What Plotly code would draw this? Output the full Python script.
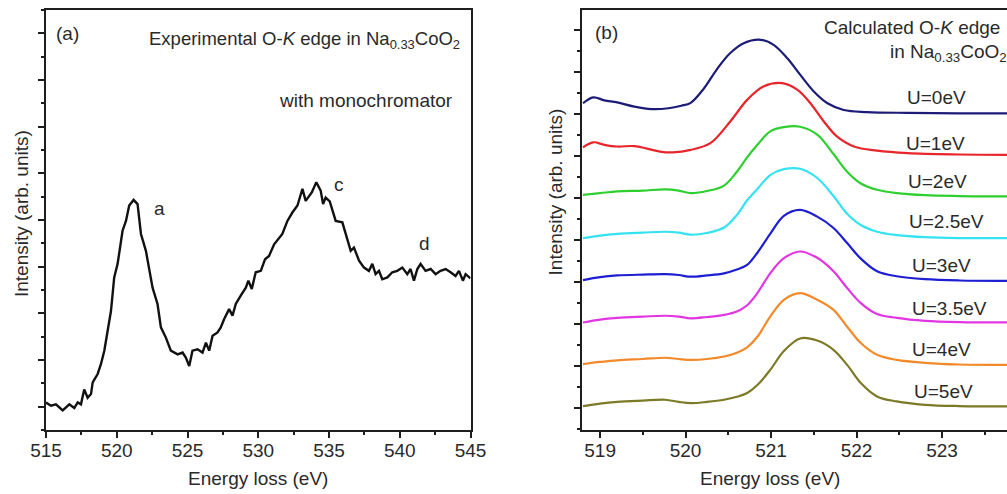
import plotly.graph_objects as go

# ---------------- Panel (a): experimental O-K edge ----------------
exp_energy = [515.0, 515.35, 515.7, 516.18, 516.65, 517.0, 517.24, 517.47, 517.7, 517.94,
              518.18, 518.3, 518.65, 518.88, 519.12, 519.35, 519.59, 519.82, 520.06, 520.41,
              520.65, 520.88, 521.19, 521.47, 521.71, 522.06, 522.53, 522.88, 523.12, 523.47,
              523.82, 524.3, 524.65, 524.88, 525.12, 525.35, 525.71, 526.06, 526.3, 526.53,
              526.77, 527.12, 527.35, 527.59, 527.94, 528.18, 528.41, 528.76, 529.12, 529.3,
              529.54, 529.82, 530.18, 530.48, 530.76, 531.12, 531.42, 531.7, 532.06, 532.41,
              532.77, 533.12, 533.35, 533.78, 534.1, 534.41, 534.58, 534.76, 535.05, 535.47,
              535.94, 536.18, 536.53, 536.76, 537.12, 537.47, 537.82, 538.06, 538.29, 538.53,
              538.76, 539.12, 539.47, 539.82, 540.18, 540.53, 540.76, 541.0, 541.24, 541.47,
              541.82, 542.18, 542.53, 542.88, 543.24, 543.59, 543.94, 544.18, 544.46, 544.65,
              544.88, 545.0]
exp_intensity = [0.09, 0.02, 0.05, -0.08, 0.05, -0.03, 0.09, 0.05, 0.37, 0.19,
                 0.27, 0.52, 0.70, 0.91, 1.20, 1.62, 2.05, 2.77, 3.06, 3.77,
                 3.98, 4.31, 4.43, 4.34, 3.70, 3.34, 2.55, 2.20, 1.70, 1.48,
                 1.20, 1.12, 1.16, 1.05, 0.87, 1.20, 1.23, 1.16, 1.37, 1.20,
                 1.52, 1.59, 1.70, 1.88, 2.09, 1.95, 2.20, 2.38, 2.55, 2.70,
                 2.52, 2.88, 2.91, 3.16, 3.23, 3.48, 3.59, 3.70, 3.98, 4.16,
                 4.31, 4.67, 4.41, 4.59, 4.81, 4.63, 4.34, 4.48, 4.40, 3.98,
                 3.95, 3.70, 3.34, 3.41, 3.13, 2.98, 2.91, 3.06, 2.84, 2.91,
                 2.73, 2.77, 2.88, 2.91, 2.98, 2.84, 2.95, 2.70, 2.95, 3.06,
                 2.91, 2.95, 2.84, 2.91, 2.95, 2.88, 2.80, 2.91, 2.70, 2.84,
                 2.77, 2.75]

# ---------------- Panel (b): calculated O-K edge (vertically stacked) ----------------
u0_energy = [518.8, 518.92, 519.05, 519.2, 519.4, 519.6, 519.8, 519.95, 520.06, 520.21,
             520.37, 520.52, 520.68, 520.88, 521.03, 521.19, 521.34, 521.5, 521.66, 521.85,
             522.12, 522.6, 523.2, 523.9]
u0_vals = [7.26, 7.40, 7.33, 7.28, 7.18, 7.12, 7.14, 7.20, 7.27, 7.60,
           8.08, 8.45, 8.69, 8.77, 8.65, 8.33, 7.94, 7.54, 7.26, 7.10,
           7.05, 7.03, 7.02, 7.02]

u1_energy = [518.8, 518.92, 519.05, 519.2, 519.4, 519.55, 519.7, 519.85, 520.06, 520.29,
             520.52, 520.72, 520.91, 521.13, 521.31, 521.46, 521.62, 521.77, 521.97, 522.24,
             522.6, 523.2, 523.9]
u1_vals = [6.21, 6.33, 6.27, 6.23, 6.24, 6.18, 6.11, 6.09, 6.15, 6.31,
           6.82, 7.34, 7.66, 7.74, 7.58, 7.26, 6.82, 6.47, 6.23, 6.13,
           6.07, 6.04, 6.03]

calc_energy = [518.8, 519.0, 519.2, 519.5, 519.76, 519.92, 520.06, 520.25, 520.45, 520.6,
               520.72, 520.84, 520.99, 521.15, 521.34, 521.54, 521.73, 521.89, 522.05, 522.24,
               522.47, 522.8, 523.2, 523.9]
u2_vals = [5.08, 5.12, 5.16, 5.18, 5.21, 5.18, 5.12, 5.17, 5.30, 5.63,
           5.97, 6.27, 6.59, 6.69, 6.70, 6.51, 6.05, 5.63, 5.35, 5.20,
           5.12, 5.07, 5.05, 5.04]
u25_vals = [4.05, 4.11, 4.15, 4.18, 4.20, 4.18, 4.13, 4.17, 4.30, 4.60,
            4.95, 5.22, 5.55, 5.69, 5.70, 5.48, 5.05, 4.63, 4.36, 4.20,
            4.12, 4.07, 4.05, 4.05]
u3_vals = [3.05, 3.12, 3.16, 3.18, 3.19, 3.17, 3.13, 3.16, 3.21, 3.30,
           3.41, 3.70, 4.15, 4.58, 4.72, 4.56, 4.29, 3.93, 3.56, 3.26,
           3.14, 3.07, 3.04, 3.03]
u35_vals = [2.04, 2.11, 2.15, 2.18, 2.20, 2.18, 2.14, 2.17, 2.22, 2.30,
            2.45, 2.74, 3.21, 3.57, 3.73, 3.58, 3.26, 2.86, 2.50, 2.24,
            2.15, 2.08, 2.05, 2.04]
u4_vals = [1.05, 1.10, 1.14, 1.17, 1.20, 1.17, 1.15, 1.17, 1.23, 1.32,
           1.45, 1.70, 2.18, 2.58, 2.74, 2.58, 2.34, 1.94, 1.55, 1.27,
           1.15, 1.08, 1.04, 1.03]
u5_vals = [0.05, 0.11, 0.15, 0.18, 0.20, 0.15, 0.12, 0.15, 0.20, 0.27,
           0.36, 0.55, 0.91, 1.36, 1.66, 1.61, 1.39, 1.03, 0.60, 0.28,
           0.16, 0.08, 0.05, 0.04]

u_labels = ["U=0eV", "U=1eV", "U=2eV", "U=2.5eV", "U=3eV", "U=3.5eV", "U=4eV", "U=5eV"]
u_colors = ["#1c1c78", "#e8252b", "#2fcf2f", "#35e2ef", "#1e1ed2", "#e236e2", "#f28a2c", "#7c7a26"]
u_label_x = [522.57, 522.55, 522.58, 522.59, 522.62, 522.62, 522.63, 522.65]
u_label_y = [7.39, 6.31, 5.40, 4.44, 3.39, 2.38, 1.39, 0.40]

u_x = [u0_energy, u1_energy] + [calc_energy] * 6
u_y = [u0_vals, u1_vals, u2_vals, u25_vals, u3_vals, u35_vals, u4_vals, u5_vals]

FONT = "Arial, Liberation Sans, sans-serif"
TXT = "#2a2a2a"
AX = "#1e1e1e"
FS = 19

# The page is captured 1023 css-px wide and shown 1007 px wide.
FIG_W = 1023
K = FIG_W / 1007.0
# plot area in shown pixels: x 45..1007, y 10..430
PL, PR, PT, PB = 45.0, 1007.0, 10.0, 430.0
PW, PH = PR - PL, PB - PT

def px(xp):
    return (xp - PL) / PW

def py(yp):
    return (PB - yp) / PH

fig = go.Figure()
fig.add_trace(go.Scatter(x=exp_energy, y=exp_intensity, mode="lines",
                         line=dict(color="#111111", width=2.4),
                         xaxis="x", yaxis="y", showlegend=False, hoverinfo="skip"))
for xs, ys, c in zip(u_x, u_y, u_colors):
    fig.add_trace(go.Scatter(x=xs, y=ys, mode="lines",
                             line=dict(color=c, width=2.2, shape="spline", smoothing=1.0),
                             xaxis="x2", yaxis="y2", showlegend=False, hoverinfo="skip"))

axis_common = dict(showline=True, linewidth=2, linecolor=AX, ticks="outside",
                   tickcolor=AX, tickwidth=1.5, ticklen=6, showgrid=False, zeroline=False,
                   tickfont=dict(family=FONT, size=FS, color=TXT))
minor_common = dict(ticks="outside", ticklen=3, tickcolor=AX, tickwidth=1.5)

fig.update_layout(
    width=FIG_W, height=494,
    margin=dict(l=PL * K, r=0, t=10, b=64),
    paper_bgcolor="white", plot_bgcolor="white",
    font=dict(family=FONT, color=TXT, size=FS),
    xaxis=dict(domain=[0, px(470)], range=[515, 545], anchor="y", mirror=True,
               tick0=515, dtick=5, ticklabelstandoff=-4,
               minor=dict(dtick=2.5, tick0=515, **minor_common), **axis_common),
    yaxis=dict(domain=[0, 1], range=[-0.5, 8.5], anchor="x", mirror=True,
               tick0=0, dtick=1, showticklabels=False,
               minor=dict(dtick=0.5, tick0=0, **minor_common), **axis_common),
    xaxis2=dict(domain=[px(581.7), 1], range=[518.79, 523.76], anchor="y2", mirror=True,
                tick0=519, dtick=1, ticklabelstandoff=-4,
                minor=dict(dtick=0.5, tick0=519, **minor_common), **axis_common),
    yaxis2=dict(domain=[0, 1], range=[-0.52, 9.48], anchor="x2", mirror=False,
                tick0=0, dtick=1, showticklabels=False,
                minor=dict(dtick=0.5, tick0=0, **minor_common), **axis_common),
    hovermode=False,
)

def ann(text, x, y, xanchor="left", yanchor="middle", size=FS, xref="paper", yref="paper", angle=0):
    fig.add_annotation(text=text, x=x, y=y, xref=xref, yref=yref, xanchor=xanchor,
                       yanchor=yanchor, showarrow=False, textangle=angle,
                       font=dict(family=FONT, size=size, color=TXT))

# panel (a) texts
ann("(a)", px(53), py(33))
ann("Experimental O-<i>K</i> edge in Na<sub>0.33</sub>CoO<sub>2</sub>", px(461), py(40),
    xanchor="right", size=18.5)
ann("with monochromator", px(454), py(100), xanchor="right")
ann("a", px(151), py(208))
ann("c", px(331), py(185))
ann("d", px(416), py(243))
ann("Energy loss (eV)", px(257.5), py(478), xanchor="center")
ann("Intensity (arb. units)", px(20), py(214), xanchor="center", angle=-90)

# panel (b) texts
ann("(b)", px(593), py(32))
ann("Calculated O-<i>K</i> edge", px(1002), py(28), xanchor="right")
ann("in Na<sub>0.33</sub>CoO<sub>2</sub>", px(1009), py(53), xanchor="right")
ann("Energy loss (eV)", px(770), py(478), xanchor="center")
ann("Intensity (arb. units)", px(555), py(192), xanchor="center", angle=-90)
for lab, lx, ly in zip(u_labels, u_label_x, u_label_y):
    ann(lab, lx, ly, xref="x2", yref="y2")

# let the figure start at the page corner (no default page margin)
fig.write_html("out.html", config={"displayModeBar": False},
               post_script="document.body.style.margin='0';")
